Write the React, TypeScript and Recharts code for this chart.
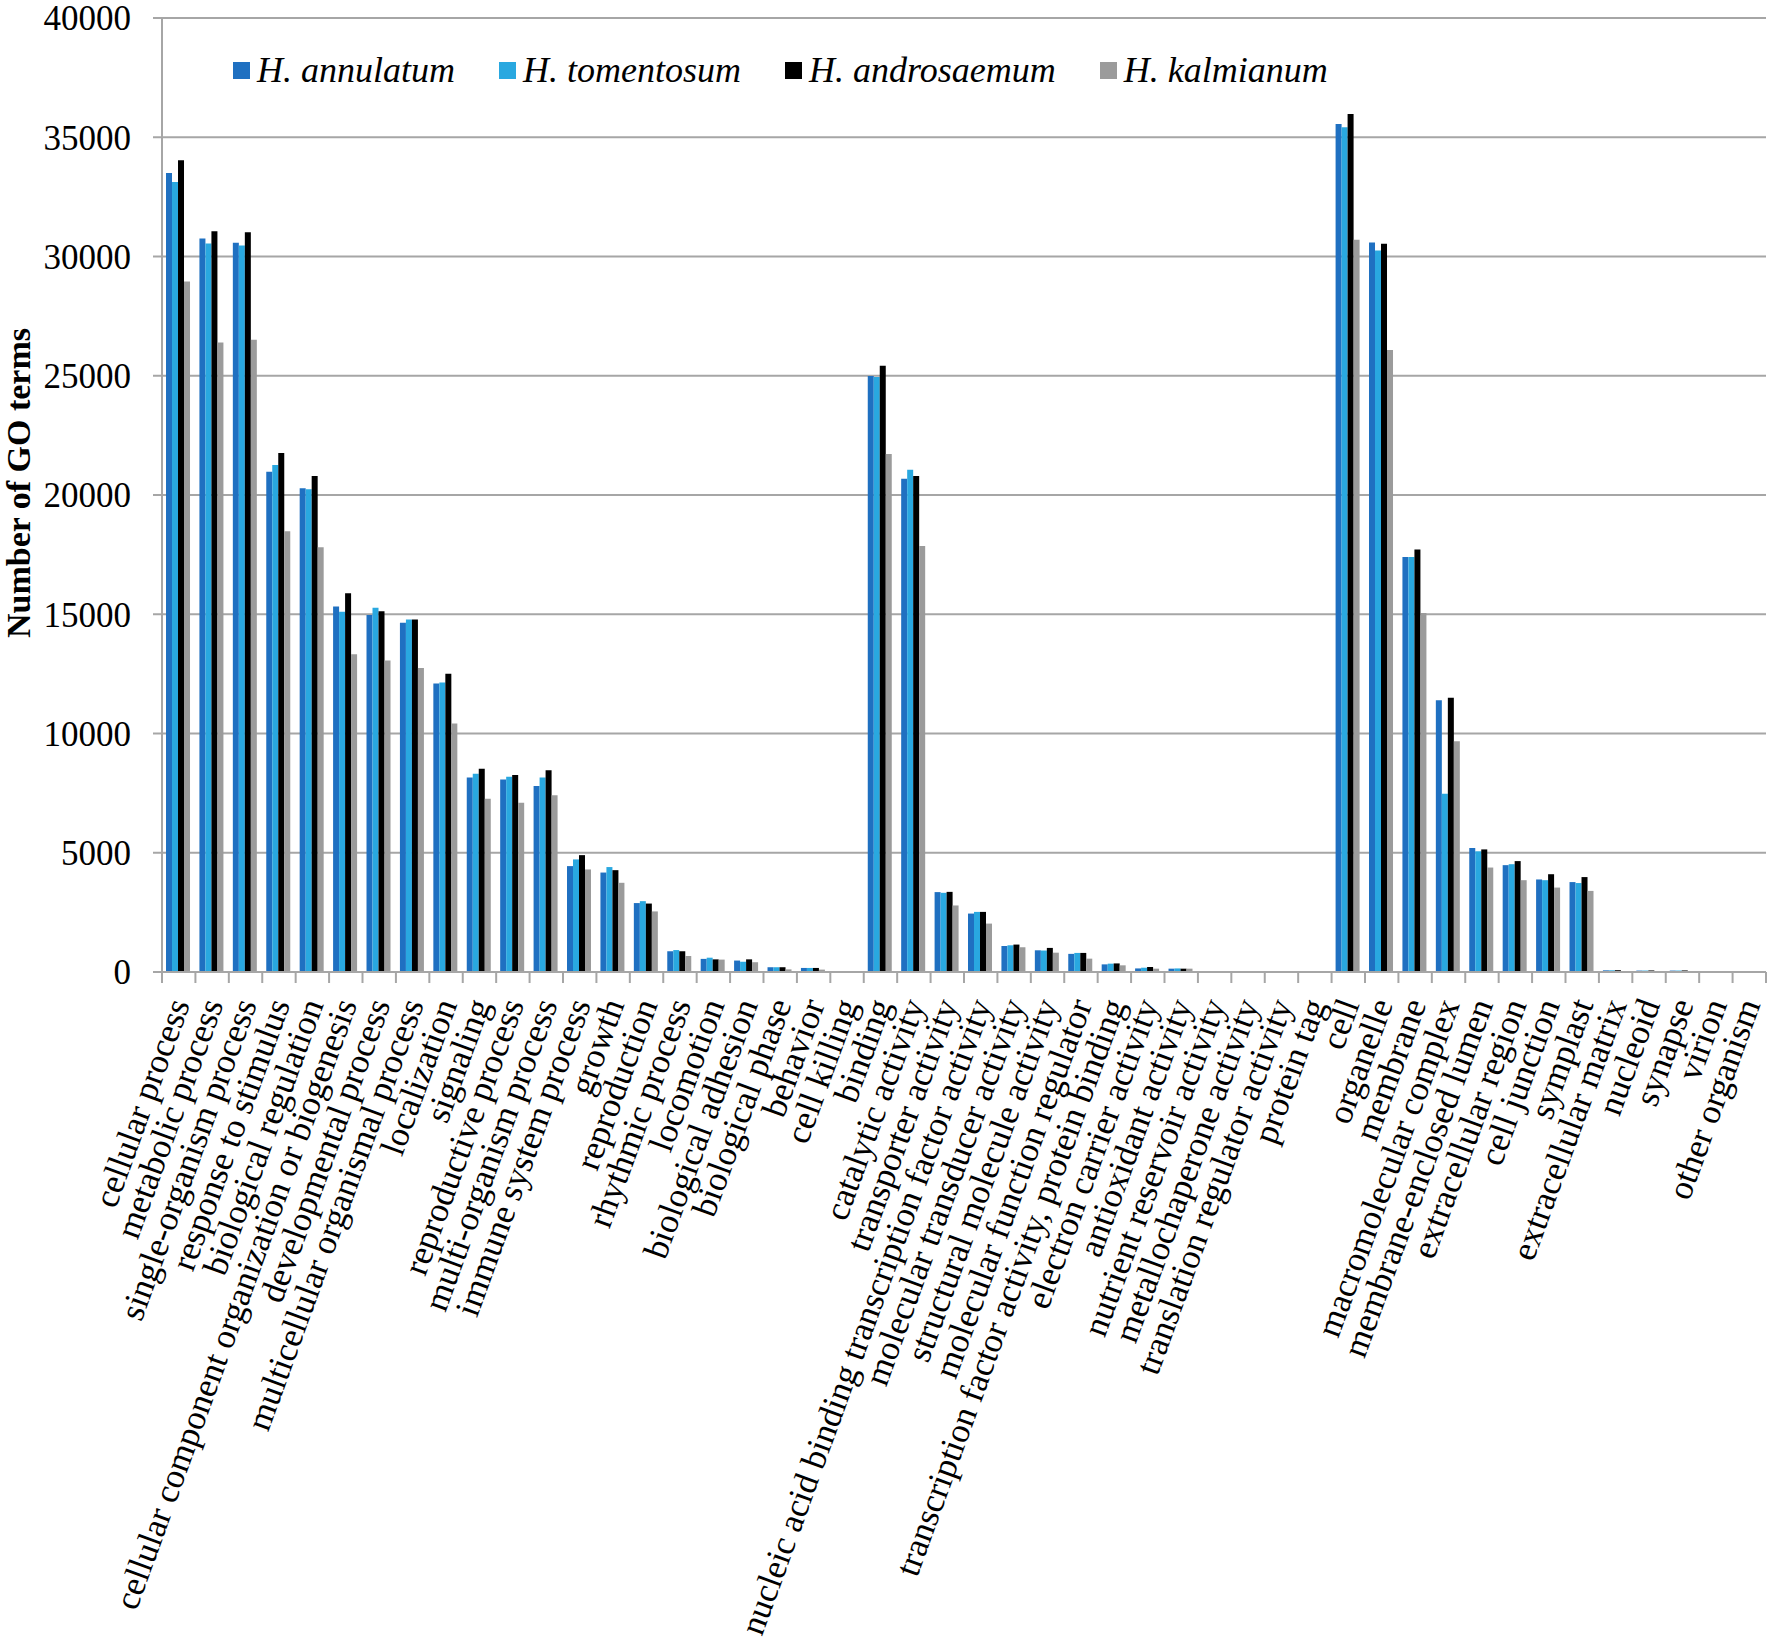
import React from 'react';
import { BarChart, Bar, XAxis, YAxis, CartesianGrid, Legend, Label } from 'recharts';

const categories = [
  // biological process
  'cellular process', 'metabolic process', 'single-organism process', 'response to stimulus',
  'biological regulation', 'cellular component organization or biogenesis', 'developmental process',
  'multicellular organismal process', 'localization', 'signaling', 'reproductive process',
  'multi-organism process', 'immune system process', 'growth', 'reproduction', 'rhythmic process',
  'locomotion', 'biological adhesion', 'biological phase', 'behavior', 'cell killing',
  // molecular function
  'binding', 'catalytic activity', 'transporter activity',
  'nucleic acid binding transcription factor activity', 'molecular transducer activity',
  'structural molecule activity', 'molecular function regulator',
  'transcription factor activity, protein binding', 'electron carrier activity', 'antioxidant activity',
  'nutrient reservoir activity', 'metallochaperone activity', 'translation regulator activity', 'protein tag',
  // cellular component
  'cell', 'organelle', 'membrane', 'macromolecular complex', 'membrane-enclosed lumen',
  'extracellular region', 'cell junction', 'symplast', 'extracellular matrix', 'nucleoid', 'synapse',
  'virion', 'other organism',
];

const annulatum = [
  33500, 30750, 30580, 20980, 20280, 15320, 14970, 14640, 12100, 8160, 8070, 7800, 4440, 4170, 2890, 870, 550, 480, 200, 170, 15,
  24990, 20680, 3350, 2450, 1090, 910, 760, 320, 150, 140, 20, 10, 8, 3,
  35560, 30590, 17400, 11390, 5200, 4480, 3880, 3770, 70, 60, 60, 8, 3,
];
const tomentosum = [
  33120, 30540, 30460, 21260, 20240, 15100, 15270, 14780, 12140, 8310, 8190, 8150, 4720, 4400, 2970, 920, 600, 430, 200, 170, 15,
  24950, 21060, 3320, 2520, 1120, 900, 800, 350, 180, 150, 20, 10, 8, 3,
  35420, 30250, 17400, 7470, 5060, 4520, 3850, 3730, 70, 60, 60, 8, 3,
];
const androsaemum = [
  34040, 31060, 31020, 21760, 20800, 15880, 15130, 14780, 12510, 8520, 8260, 8460, 4900, 4270, 2870, 870, 530, 530, 200, 170, 15,
  25420, 20800, 3360, 2520, 1150, 1010, 800, 360, 210, 140, 20, 10, 8, 3,
  35980, 30530, 17720, 11500, 5140, 4650, 4100, 3980, 75, 65, 65, 8, 3,
];
const kalmianum = [
  28950, 26390, 26510, 18480, 17810, 13320, 13060, 12750, 10420, 7260, 7100, 7410, 4300, 3740, 2540, 670, 520, 410, 110, 100, 10,
  21720, 17860, 2790, 2030, 1040, 810, 560, 280, 140, 140, 15, 8, 6, 2,
  30700, 26080, 15050, 9680, 4380, 3850, 3540, 3400, 40, 40, 40, 5, 2,
];

const yTicks = [0, 5000, 10000, 15000, 20000, 25000, 30000, 35000, 40000];

const series = [
  { key: 'annulatum', name: 'H. annulatum', color: '#1F70C1', values: annulatum },
  { key: 'tomentosum', name: 'H. tomentosum', color: '#29A8E0', values: tomentosum },
  { key: 'androsaemum', name: 'H. androsaemum', color: '#000000', values: androsaemum },
  { key: 'kalmianum', name: 'H. kalmianum', color: '#9B9B9B', values: kalmianum },
];

const data = categories.map((name, i) => {
  const row: Record<string, string | number> = { name };
  series.forEach((s) => { row[s.key] = s.values[i]; });
  return row;
});

const W = 1772;
const H = 1648;
const margin = { top: 18, right: 6, left: 0, bottom: 0 };
const yAxisWidth = 162;
const xAxisHeight = 676;
const band = (W - margin.left - margin.right - yAxisWidth) / categories.length;
const FONT = "'Liberation Serif', 'Times New Roman', serif";
const GRID = '#A6A6A6';

const CategoryTick = (props: any) => {
  const { x, y, payload, index } = props;
  const last = index === categories.length - 1;
  return (
    <g>
      <line x1={x - band / 2} x2={x - band / 2} y1={y} y2={y + 11} stroke={GRID} strokeWidth={2} />
      {last && <line x1={x + band / 2} x2={x + band / 2} y1={y} y2={y + 11} stroke={GRID} strokeWidth={2} />}
      <text
        transform={`translate(${x},${y + 28}) rotate(-70)`}
        textAnchor="end"
        dy="0.35em"
        fontSize={35}
        fontFamily={FONT}
        fill="#000"
      >
        {payload.value}
      </text>
    </g>
  );
};

// legend drawn in the series order (recharts sorts its payload by name)
const LegendContent = () => (
  <div style={{ display: 'flex', alignItems: 'center', fontFamily: FONT, fontSize: 36, fontStyle: 'italic', whiteSpace: 'nowrap', lineHeight: '40px' }}>
    {series.map((s) => (
      <div key={s.key} style={{ display: 'flex', alignItems: 'center', marginRight: 44 }}>
        <span style={{ display: 'inline-block', width: 17, height: 17, background: s.color, marginRight: 7 }} />
        <span style={{ color: '#000' }}>{s.name}</span>
      </div>
    ))}
  </div>
);

const YTitle = (props: any) => {
  const vb = props.viewBox || { x: 0, y: 0, height: 0 };
  const cx = vb.x + 18;
  const cy = vb.y + vb.height / 2 - 12;
  return (
    <text
      x={cx}
      y={cy}
      transform={`rotate(-90, ${cx}, ${cy})`}
      textAnchor="middle"
      dominantBaseline="central"
      fontSize={34}
      fontWeight="bold"
      fontFamily={FONT}
      fill="#000"
    >
      Number of GO terms
    </text>
  );
};

export default function App() {
  return (
    <div style={{ position: 'absolute', left: 0, top: 0, width: W, height: H, background: '#fff' }}>
      <BarChart width={W} height={H} data={data} margin={margin} barCategoryGap="12%" barGap={0}>
        <CartesianGrid vertical={false} stroke={GRID} strokeWidth={2} />
        <XAxis
          dataKey="name"
          interval={0}
          height={xAxisHeight}
          tickLine={false}
          tickSize={0}
          tickMargin={0}
          axisLine={{ stroke: GRID, strokeWidth: 2 }}
          tick={<CategoryTick />}
        />
        <YAxis
          width={yAxisWidth}
          domain={[0, 40000]}
          ticks={yTicks}
          interval={0}
          tickSize={9}
          tickMargin={22}
          axisLine={{ stroke: GRID, strokeWidth: 2 }}
          tickLine={{ stroke: GRID, strokeWidth: 2 }}
          tick={{ fontSize: 35, fontFamily: FONT, fill: '#000' }}
        >
          <Label content={<YTitle />} />
        </YAxis>
        <Legend
          layout="horizontal"
          verticalAlign="middle"
          align="center"
          wrapperStyle={{ top: 50, left: 233, width: 'auto' }}
          content={<LegendContent />}
        />
        {series.map((s) => (
          <Bar key={s.key} dataKey={s.key} name={s.name} fill={s.color} isAnimationActive={false} />
        ))}
      </BarChart>
    </div>
  );
}
